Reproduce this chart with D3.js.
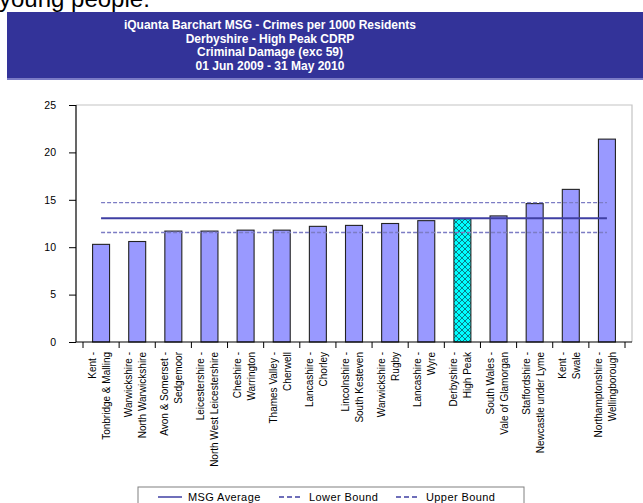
<!DOCTYPE html>
<html>
<head>
<meta charset="utf-8">
<style>
  body { margin: 0; background: #fff; }
  svg { display: block; font-family: Arial, "Liberation Sans", sans-serif; }
  .axis .domain { display: none; }
</style>
</head>
<body>
<svg width="643" height="503"></svg>
<script src="https://cdn.jsdelivr.net/npm/d3@7"></script>
<script>
// chart values
var forces = ["Kent", "Warwickshire", "Avon & Somerset", "Leicestershire", "Cheshire",
  "Thames Valley", "Lancashire", "Lincolnshire", "Warwickshire", "Lancashire",
  "Derbyshire", "South Wales", "Staffordshire", "Kent", "Northamptonshire"];
var cdrps = ["Tonbridge & Malling", "North Warwickshire", "Sedgemoor", "North West Leicestershire",
  "Warrington", "Cherwell", "Chorley", "South Kesteven", "Rugby", "Wyre",
  "High Peak", "Vale of Glamorgan", "Newcastle under Lyme", "Swale", "Wellingborough"];
var rates = [10.3, 10.6, 11.7, 11.7, 11.8, 11.8, 12.2, 12.3, 12.5, 12.8, 13.0, 13.3, 14.6, 16.1, 21.4];
var msgAverage = 13.05, lowerBound = 11.55, upperBound = 14.7;
var yTicks = [0, 5, 10, 15, 20, 25];
var highlight = "Derbyshire - High Peak";
var titleLines = ["iQuanta Barchart MSG - Crimes per 1000 Residents", "Derbyshire - High Peak CDRP",
  "Criminal Damage (exc 59)", "01 Jun 2009 - 31 May 2010"];

var data = forces.map(function(f, i) {
  return { key: f + " - " + cdrps[i], force: f, cdrp: cdrps[i], value: rates[i] };
});

var svg = d3.select("svg");

// leftover text from the page above
svg.append("text")
  .attr("x", -1).attr("y", 7)
  .attr("font-size", 24)
  .attr("fill", "#000")
  .text("young people:");

// title banner
svg.append("rect").attr("x", 7).attr("y", 12).attr("width", 640).attr("height", 67).attr("fill", "#333399");
svg.append("rect").attr("x", 7).attr("y", 78).attr("width", 640).attr("height", 2).attr("fill", "#7b7bc6");
svg.append("g").selectAll("text")
  .data(titleLines)
  .enter().append("text")
    .attr("x", 270)
    .attr("y", function(d, i) { return 29 + i * 13.5; })
    .attr("text-anchor", "middle")
    .attr("font-size", 12)
    .attr("font-weight", "bold")
    .attr("fill", "#fff")
    .text(function(d) { return d; });

// hatch pattern for the highlighted area
var pat = svg.append("defs").append("pattern")
  .attr("id", "hatch").attr("patternUnits", "userSpaceOnUse")
  .attr("width", 6).attr("height", 6);
pat.append("rect").attr("width", 6).attr("height", 6).attr("fill", "#00ffff");
pat.append("path").attr("d", "M0,0L6,6M6,0L0,6").attr("stroke", "#0a6f78").attr("stroke-width", 0.9);

var plotLeft = 76, plotRight = 632, plotTop = 105, plotBottom = 342;

var x = d3.scaleBand()
  .domain(data.map(function(d) { return d.key; }))
  .range([83, 625]);
var y = d3.scaleLinear().domain([0, 25]).range([plotBottom, plotTop]);

var barW = x.bandwidth() * 0.47;

// frame
svg.append("path")
  .attr("d", "M" + plotLeft + "," + plotTop + "H" + plotRight + "V" + plotBottom)
  .attr("fill", "none").attr("stroke", "#c4c4c4").attr("stroke-width", 1.2);

// bars
svg.append("g").selectAll("rect")
  .data(data)
  .enter().append("rect")
    .attr("x", function(d) { return x(d.key) + (x.bandwidth() - barW) / 2; })
    .attr("y", function(d) { return y(d.value); })
    .attr("width", barW)
    .attr("height", function(d) { return plotBottom - y(d.value); })
    .attr("fill", function(d) { return d.key == highlight ? "url(#hatch)" : "#9999ff"; })
    .attr("stroke", "#222")
    .attr("stroke-width", 1.1);

// MSG average and bounds
var x0 = x(data[0].key) + x.bandwidth() / 2,
    x1 = x(data[data.length - 1].key) + x.bandwidth() / 2;
var refLines = [
  { v: upperBound, color: "#7c7cc4", w: 1.4, dash: "4,2" },
  { v: lowerBound, color: "#7c7cc4", w: 1.4, dash: "4,2" },
  { v: msgAverage, color: "#3f3fa3", w: 2, dash: null }
];
svg.append("g").selectAll("line")
  .data(refLines)
  .enter().append("line")
    .attr("x1", x0).attr("x2", x1)
    .attr("y1", function(d) { return y(d.v); })
    .attr("y2", function(d) { return y(d.v); })
    .attr("stroke", function(d) { return d.color; })
    .attr("stroke-width", function(d) { return d.w; })
    .attr("stroke-dasharray", function(d) { return d.dash; });

// y axis
var yAxis = svg.append("g")
  .attr("class", "axis")
  .attr("transform", "translate(" + plotLeft + ",0)")
  .call(d3.axisLeft(y).tickValues(yTicks).tickSize(7).tickPadding(13));
yAxis.selectAll("text").attr("font-size", 10.5).attr("fill", "#000").attr("font-family", "Arial, 'Liberation Sans', sans-serif");
yAxis.selectAll("line").attr("stroke", "#000");
svg.append("line").attr("x1", plotLeft).attr("x2", plotLeft).attr("y1", plotTop).attr("y2", plotBottom)
  .attr("stroke", "#000").attr("stroke-width", 1.2);

// x axis: ticks at the band edges
svg.append("line").attr("x1", plotLeft).attr("x2", plotRight).attr("y1", plotBottom).attr("y2", plotBottom)
  .attr("stroke", "#000").attr("stroke-width", 1.2);
var edges = data.map(function(d) { return x(d.key); }).concat([x.range()[1]]);
svg.append("g").selectAll("line")
  .data(edges)
  .enter().append("line")
    .attr("x1", function(d) { return d; }).attr("x2", function(d) { return d; })
    .attr("y1", plotBottom).attr("y2", plotBottom + 6)
    .attr("stroke", "#000");

var labels = svg.append("g").selectAll("text")
  .data(data)
  .enter().append("text")
    .attr("transform", function(d) {
      return "translate(" + (x(d.key) + x.bandwidth() / 2) + "," + (plotBottom + 10) + ") rotate(-90)";
    })
    .attr("text-anchor", "end")
    .attr("font-size", 10)
    .attr("fill", "#000");
labels.append("tspan").attr("x", 0).attr("y", -5).text(function(d) { return d.force + " -"; });
labels.append("tspan").attr("x", 0).attr("y", 9).text(function(d) { return d.cdrp; });

// legend
var legend = svg.append("g");
legend.append("rect")
  .attr("x", 138).attr("y", 487).attr("width", 386).attr("height", 30)
  .attr("fill", "#fff").attr("stroke", "#808080");
var legendItems = [
  { label: "MSG Average", x: 158, color: "#3f3fa3", dash: null },
  { label: "Lower Bound", x: 279, color: "#3f3fa3", dash: "5,3" },
  { label: "Upper Bound", x: 396, color: "#3f3fa3", dash: "5,3" }
];
var li = legend.selectAll("g.item")
  .data(legendItems)
  .enter().append("g").attr("class", "item");
li.append("line")
  .attr("x1", function(d) { return d.x; }).attr("x2", function(d) { return d.x + 24; })
  .attr("y1", 497).attr("y2", 497)
  .attr("stroke", function(d) { return d.color; })
  .attr("stroke-width", 1.5)
  .attr("stroke-dasharray", function(d) { return d.dash; });
li.append("text")
  .attr("x", function(d) { return d.x + 30; })
  .attr("y", 501)
  .attr("font-size", 11)
  .attr("letter-spacing", 0.4)
  .attr("fill", "#000")
  .text(function(d) { return d.label; });
</script>
</body>
</html>
